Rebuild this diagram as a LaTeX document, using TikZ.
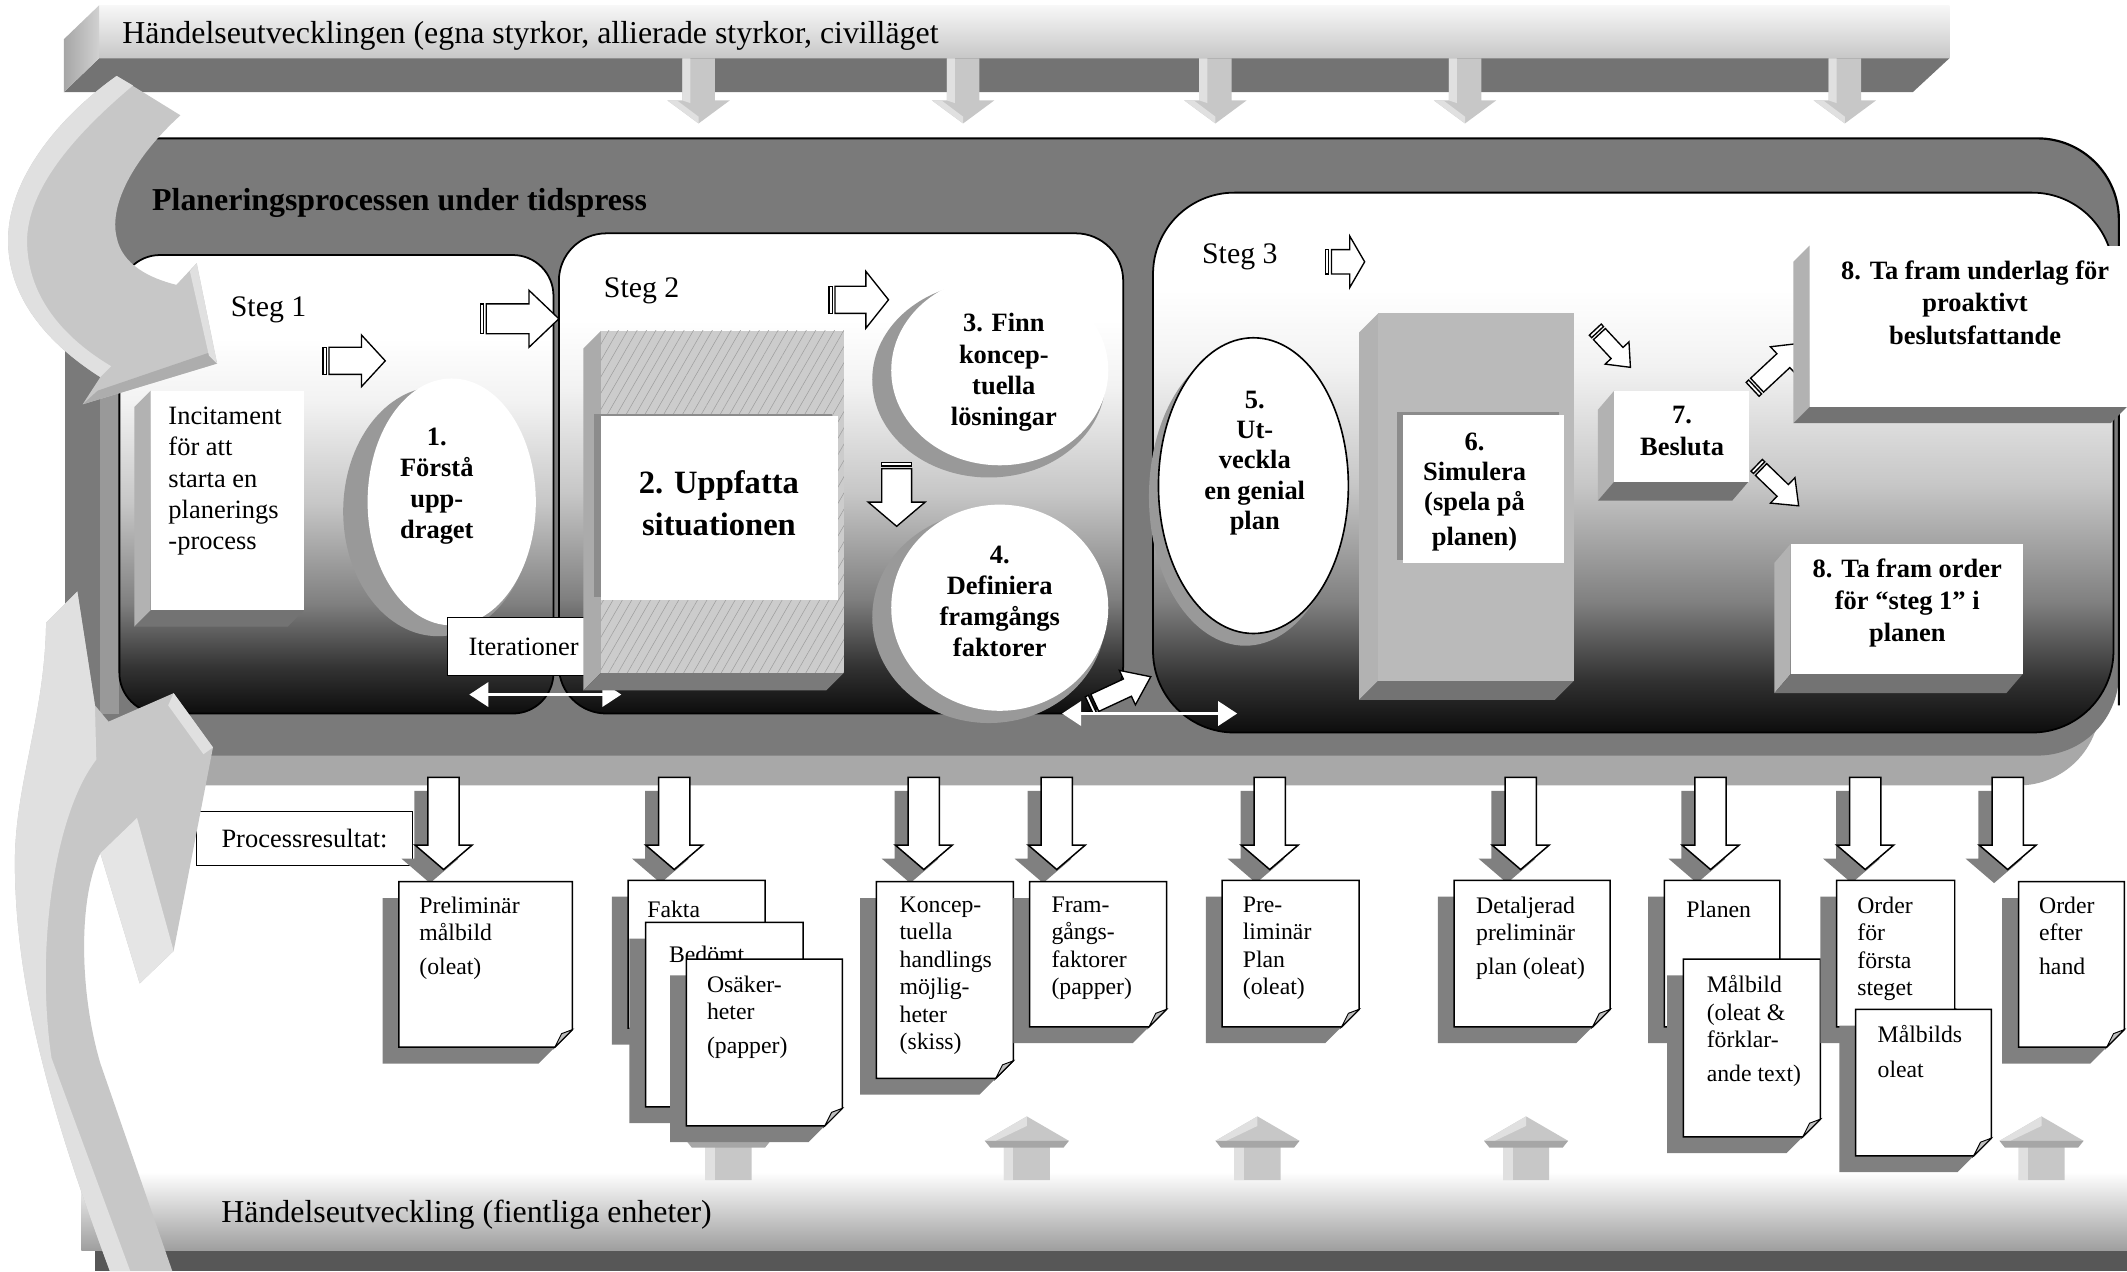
\documentclass[tikz,border=0pt]{standalone}
\usepackage{fontspec}
\setmainfont{Liberation Serif}
\usetikzlibrary{arrows.meta,patterns.meta,calc}
\pgfdeclareverticalshading{panelshade}{100bp}{color(0bp)=(black!95); color(25bp)=(black!95); color(30bp)=(black!80); color(37bp)=(black!50); color(48bp)=(black!22); color(59bp)=(black!5); color(66bp)=(white); color(100bp)=(white)}
\definecolor{framegray}{gray}{0.48}
\definecolor{bandgray}{gray}{0.66}
\definecolor{arrgray}{gray}{0.78}
\definecolor{arrlight}{gray}{0.88}
\definecolor{shadowgray}{gray}{0.5}
\tikzset{
  big/.style={font=\fontsize{23.5}{27}\selectfont, inner sep=0},
  bigb/.style={font=\fontsize{23.5}{27}\selectfont\bfseries, inner sep=0},
  steg/.style={font=\fontsize{22}{26}\selectfont, inner sep=0},
  lbl/.style={font=\fontsize{19.5}{23}\selectfont, inner sep=0, align=left},
  lblb/.style={font=\fontsize{19.5}{23}\selectfont\bfseries, inner sep=0, align=center},
  doctxt/.style={font=\fontsize{17.5}{20.2}\selectfont, inner sep=0, align=left, anchor=north west},
  panel/.style={shading=panelshade, draw=black, line width=1.3},
  sarr/.style={draw=black, fill=white, line width=1},
  darr/.style={white, line width=1.6, {Triangle[length=14pt,width=18pt]}-{Triangle[length=14pt,width=18pt]}},
  boxed/.style={draw=black, fill=white, line width=1, inner sep=0, font=\fontsize{19.5}{23}\selectfont}
}
% striped block arrow: x, y (tail centre), angle, length, shaft half, head half
\newcommand\sarrow[6]{%
\begin{scope}[shift={(#1,#2)},rotate=#3]
\pgfmathsetmacro\sahl{#4-0.38*#4}
\draw[sarr] (0,-#5) rectangle (2.5,#5);
\draw[sarr] (4.5,-#5) -- (\sahl,-#5) -- (\sahl,-#6) -- (#4,0) -- (\sahl,#6) -- (\sahl,#5) -- (4.5,#5) -- cycle;
\end{scope}}
% 3D box: x1 y1 x2 y2 dx dy front
\newcommand\boxthreed[7]{%
\fill[black!30] (#1,#2) -- (#1,#4) -- (#1-#5,#4+#6) -- (#1-#5,#2+#6) -- cycle;
\fill[black!55] (#1,#4) -- (#3,#4) -- (#3-#5,#4+#6) -- (#1-#5,#4+#6) -- cycle;
\fill[#7] (#1,#2) rectangle (#3,#4);}
% light arrow from top bar
\newcommand\tdarrow[1]{%
\fill[arrgray] (#1-12,43) -- (#1+12,43) -- (#1+12,74) -- (#1+23,74) -- (#1,91) -- (#1-23,74) -- (#1-12,74) -- cycle;
\fill[arrlight] (#1-12,43) -- (#1-6,43) -- (#1-6,76) -- (#1-12,74) -- cycle;
\fill[arrlight] (#1-23,74) -- (#1,91) -- (#1,86) -- (#1-16,74) -- cycle;}
% light arrow from bottom bar
\newcommand\buarrow[1]{%
\fill[arrgray] (#1-17,870) -- (#1-17,841) -- (#1-31,841) -- (#1,823) -- (#1+31,841) -- (#1+17,841) -- (#1+17,870) -- cycle;
\fill[arrlight] (#1-17,870) -- (#1-17,843) -- (#1-10,843) -- (#1-10,870) -- cycle;
\fill[arrlight] (#1-31,841) -- (#1,823) -- (#1,830) -- (#1-23,841) -- cycle;
\fill[black!35] (#1-31,841) -- (#1+31,841) -- (#1+27,846) -- (#1-27,846) -- cycle;}
% output arrow with shadow
\newcommand\oarrow[1]{%
\fill[shadowgray] (#1-21.5,583) -- (#1+1.5,583) -- (#1+1.5,633) -- (#1+11,633) -- (#1-10,651) -- (#1-31,633) -- (#1-21.5,633) -- cycle;
\draw[fill=white, line width=1.1] (#1-11.5,573) -- (#1+11.5,573) -- (#1+11.5,623) -- (#1+21,623) -- (#1,641) -- (#1-21,623) -- (#1-11.5,623) -- cycle;}
% document paper with shadow and folded corner
\newcommand\docpaper[4]{%
\fill[shadowgray] (#1-12,#2+12) -- (#3-12,#2+12) -- (#3-12,#4-1) -- (#3-25,#4+12) -- (#1-12,#4+12) -- cycle;
\draw[line width=1.1, fill=white] (#1,#2) -- (#3,#2) -- (#3,#4-13) -- (#3-13,#4) -- (#1,#4) -- cycle;
\draw[line width=0.7, fill=black!25] (#3,#4-13) -- (#3-13,#4) -- (#3-8,#4-10) -- cycle;}
\begin{document}
\begin{tikzpicture}[x=1pt,y=-1pt]
\useasboundingbox (0,0) rectangle (1568,937);
\fill[white] (0,0) rectangle (1568,937);

% ---------- bottom bar ----------
\shade[top color=white, bottom color=black!38] (60,864) rectangle (1568,922);
\fill[black!66] (70,922) rectangle (1568,937);

% ---------- top bar ----------
\shade[top color=black!3, bottom color=black!22] (73,4) rectangle (1437,43);
\fill[black!55] (73,43) -- (1437,43) -- (1410,68) -- (47,68) -- cycle;
\shade[left color=black!35, right color=black!18] (47,29) -- (73,4) -- (73,43) -- (47,68) -- cycle;
\node[big, anchor=base west] (topbar) at (90,32) {Händelseutvecklingen (egna styrkor, allierade styrkor, civilläget};
\tdarrow{515}\tdarrow{710}\tdarrow{896}\tdarrow{1080}\tdarrow{1360}

% ---------- frame ----------
\fill[bandgray, rounded corners=60] (48,102) rectangle (1548,579);
\fill[framegray, rounded corners=60] (48,102) rectangle (1562,557);
\draw[line width=1.6, rounded corners=60] (95,102) -- (1562,102) -- (1562,520);
\node[bigb, anchor=base west] (title) at (112,155) {Planeringsprocessen under tidspress};

% ---------- panels ----------
\fill[black!40] (74,230) rectangle (88,526);
\shadedraw[panel, rounded corners=30] (88,188) rectangle (408,526);
\shadedraw[panel, rounded corners=35] (412,172) rectangle (828,526);
\shadedraw[panel, rounded corners=60] (850,142) rectangle (1558,540);

% ---------- Steg 1 ----------
\node[steg, anchor=base west] (s1) at (170,233) {Steg 1};
\sarrow{238}{266}{0}{46}{10}{19}
\boxthreed{111}{288}{224}{450}{12}{12}{white}
\node[lbl, anchor=north west] (incit) at (124,300) {Incitament\\för att\\starta en\\planerings\\-process};
\fill[black!40] (323,377) ellipse [x radius=70, y radius=92];
\fill[white] (333,370) ellipse [x radius=62, y radius=91];
\node[lblb, anchor=north] (n1) at (322,315) {1.\\Förstå\\upp-\\draget};
\node[boxed, minimum width=112, minimum height=43] (iter) at (386,476.5) {Iterationer};
\coordinate (it1) at (346,512);
\coordinate (it2) at (458,512);
\draw[darr] (it1) -- (it2);
\sarrow{354}{235}{0}{58}{11}{21}

% ---------- Steg 2 ----------
\node[steg, anchor=base west] (s2) at (445,219) {Steg 2};
\sarrow{611}{221}{0}{44}{10}{21}
\fill[black!33] (443,244) -- (443,496) -- (430,509) -- (430,257) -- cycle;
\fill[black!52] (443,496) -- (622,496) -- (609,509) -- (430,509) -- cycle;
\fill[black!20] (443,244) rectangle (622,496);
\fill[pattern={Lines[angle=60,distance=6pt,line width=0.4pt]}, pattern color=black!38] (443,244) rectangle (622,496);
\fill[black!45] (438,305) rectangle (613,440);
\fill[white] (443,307) rectangle (618,442);
\node[font=\fontsize{24}{31}\selectfont\bfseries, inner sep=0, align=center, anchor=north] (n2) at (530,347) {2. Uppfatta\\situationen};
\fill[black!40] (729,280) ellipse [x radius=86, y radius=72];
\fill[white] (737,273) ellipse [x radius=80, y radius=70];
\node[lblb, anchor=north] (n3) at (740,231) {3. Finn\\koncep-\\tuella\\lösningar};
\sarrow{661}{341}{-90}{47}{11}{21}
\fill[black!40] (729,455) ellipse [x radius=86, y radius=78];
\fill[white] (737,448) ellipse [x radius=80, y radius=76];
\node[lblb, anchor=north] (n4) at (737,402) {4.\\Definiera\\framgångs\\faktorer};
\sarrow{803}{520}{25}{50}{7}{14}
\coordinate (it3) at (783,526);
\coordinate (it4) at (912,526);
\draw[darr] (it3) -- (it4);

% ---------- Steg 3 ----------
\node[steg, anchor=base west] (s3) at (886,194) {Steg 3};
\sarrow{977}{193}{0}{29}{9}{19}
\fill[black!40] (918,366) ellipse [x radius=71, y radius=110];
\filldraw[fill=white, line width=1.2] (924,358) ellipse [x radius=70, y radius=109];
\node[lblb, anchor=north, font=\fontsize{19.5}{22.3}\selectfont\bfseries] (n5) at (925,288) {5.\\Ut-\\veckla\\en genial\\plan};
\boxthreed{1016}{231}{1160}{502}{14}{14}{black!27}
\fill[black!45] (1030,304) rectangle (1149,413);
\fill[white] (1034,306) rectangle (1153,415);
\node[lblb, anchor=north, font=\fontsize{19.5}{22}\selectfont\bfseries] (n6) at (1087,319) {6.\\Simulera\\(spela på\\[4pt]planen)};
\sarrow{1176}{243}{-47}{38}{6}{12}
\boxthreed{1190}{288}{1289}{355}{12}{14}{white}
\node[lblb, anchor=north, font=\fontsize{19.5}{24}\selectfont\bfseries] (n7) at (1240,299) {7.\\Besluta};
\sarrow{1292}{287}{43}{50}{7}{14}
\sarrow{1295}{343}{-44}{43}{6}{13}
\boxthreed{1334}{181}{1568}{300}{12}{12}{white}
\node[lblb, anchor=north, font=\fontsize{19.5}{24}\selectfont\bfseries] (n8a) at (1456,192) {8. Ta fram underlag för\\proaktivt\\beslutsfattande};
\boxthreed{1320}{401}{1491}{497}{12}{14}{white}
\node[lblb, anchor=north, font=\fontsize{19.5}{23.5}\selectfont\bfseries] (n8b) at (1406,412) {8. Ta fram order\\för “steg 1” i\\planen};

% ---------- bottom up arrows ----------
\buarrow{537}\buarrow{757}\buarrow{927}\buarrow{1125}\buarrow{1505}

% ---------- process results ----------
\node[boxed, minimum width=159, minimum height=40] (proc) at (224.5,618) {Processresultat:};
\oarrow{327}\oarrow{497}\oarrow{681}\oarrow{779}\oarrow{936}\oarrow{1121}\oarrow{1261}\oarrow{1375}\oarrow{1480}

\docpaper{294}{650}{422}{772}
\node[doctxt] (d1) at (309,661) {Preliminär\\målbild\\[5pt](oleat)};
\docpaper{463}{649}{564}{758}
\node[doctxt] (d2a) at (477,664) {Fakta};
\docpaper{476}{680}{592}{816}
\node[doctxt] (d2b) at (493,697) {Bedömt};
\docpaper{506}{707}{621}{830}
\node[doctxt] (d2c) at (521,719) {Osäker-\\heter\\[5pt](papper)};
\docpaper{646}{650}{747}{795}
\node[doctxt] (d3) at (663,661) {Koncep-\\tuella\\handlings\\möjlig-\\heter\\(skiss)};
\docpaper{759}{650}{860}{757}
\node[doctxt] (d4) at (775,661) {Fram-\\gångs-\\faktorer\\(papper)};
\docpaper{901}{649}{1002}{757}
\node[doctxt] (d5) at (916,661) {Pre-\\liminär\\Plan\\(oleat)};
\docpaper{1072}{649}{1187}{757}
\node[doctxt] (d6) at (1088,661) {Detaljerad\\preliminär\\[5pt]plan (oleat)};
\docpaper{1227}{649}{1312}{757}
\node[doctxt] (d7a) at (1243,664) {Planen};
\docpaper{1241}{707}{1342}{838}
\node[doctxt] (d7b) at (1258,719) {Målbild\\(oleat \&\\förklar-\\[5pt]ande text)};
\docpaper{1354}{649}{1441}{757}
\node[doctxt] (d8a) at (1369,661) {Order\\för\\första\\steget};
\docpaper{1368}{744}{1468}{852}
\node[doctxt] (d8b) at (1384,756) {Målbilds\\[5pt]oleat};
\docpaper{1488}{650}{1566}{772}
\node[doctxt] (d9) at (1503,661) {Order\\efter\\[5pt]hand};

\node[big, anchor=base west] (bottomtxt) at (163,901) {Händelseutveckling (fientliga enheter)};

% ---------- upper curved arrow ----------
\fill[arrgray] (86,56) -- (133,85) .. controls (100,115) and (80,150) .. (86,175) .. controls (90,195) and (110,205) .. (130,210) -- (145,194) -- (160,268) -- (61,298) -- (74,278) .. controls (30,250) and (5,215) .. (6,175) .. controls (7,130) and (45,85) .. (86,56) -- cycle;
\fill[arrlight] (86,56) -- (98,63) .. controls (60,95) and (22,135) .. (20,175) .. controls (19,212) and (40,245) .. (82,270) -- (74,278) .. controls (30,250) and (5,215) .. (6,175) .. controls (7,130) and (45,85) .. (86,56) -- cycle;
\fill[black!32] (61,298) -- (160,268) -- (157,259) -- (72,288) -- cycle;
\fill[arrlight] (145,194) -- (160,268) -- (154,262) -- (140,200) -- cycle;

% ---------- lower curved arrow ----------
\fill[arrgray] (81,937) .. controls (45,840) and (12,740) .. (11,640) .. controls (10,580) and (33,530) .. (34,459) -- (57,436) -- (70,520) -- (80,532) -- (128,511) -- (157,551) -- (128,701) -- (103,725) -- (74,629) .. controls (58,660) and (58,730) .. (74,784) -- (127,937) -- cycle;
\fill[arrlight] (34,459) -- (57,436) -- (70,520) -- (71,560) .. controls (40,600) and (26,700) .. (38,780) -- (96,937) -- (81,937) .. controls (45,840) and (12,740) .. (11,640) .. controls (10,580) and (33,530) .. (34,459) -- cycle;
\fill[arrlight] (128,511) -- (157,551) -- (150,556) -- (124,520) -- cycle;
\fill[black!10] (74,629) -- (101,603) -- (128,701) -- (103,725) -- cycle;
\end{tikzpicture}
\end{document}
